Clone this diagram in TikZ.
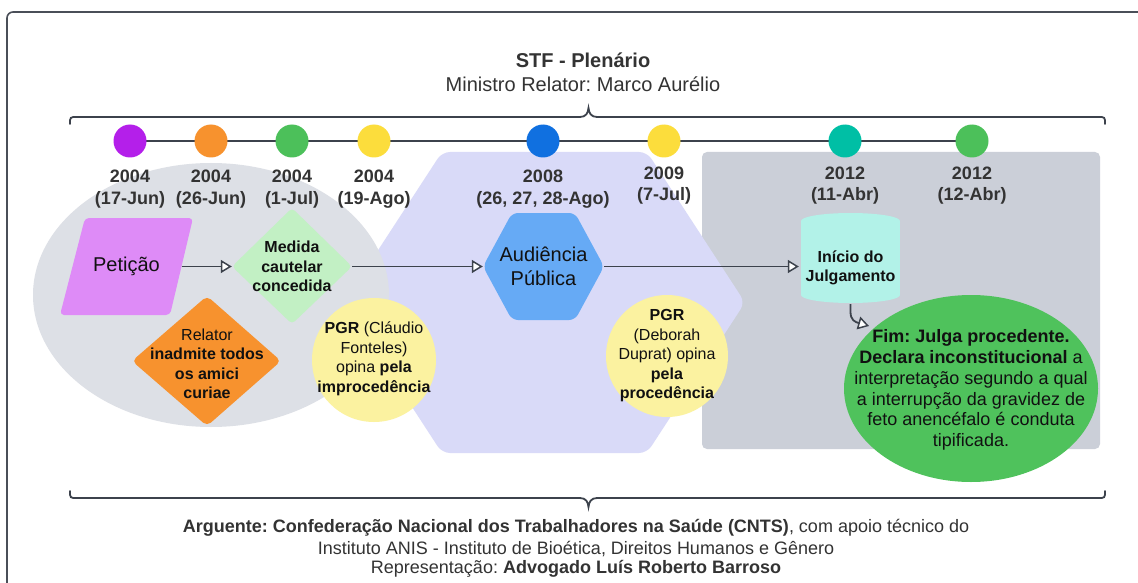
\documentclass[tikz,border=0pt]{standalone}
\usepackage{fontspec}
\setmainfont{Liberation Sans}
\usetikzlibrary{arrows.meta}
\frenchspacing
\definecolor{framec}{HTML}{4A4F58}
\definecolor{linec}{HTML}{3C424C}
\definecolor{textc}{HTML}{333333}
\definecolor{nodetext}{HTML}{111111}
\definecolor{grayell}{HTML}{DDE0E6}
\definecolor{lav}{HTML}{D9DAF8}
\definecolor{grayrect}{HTML}{CBCFD8}
\definecolor{petc}{HTML}{DE8BF7}
\definecolor{medc}{HTML}{C2F0C4}
\definecolor{orc}{HTML}{F7922E}
\definecolor{yelc}{HTML}{FBF2A0}
\definecolor{bluec}{HTML}{66AAF5}
\definecolor{cylc}{HTML}{B2F2E8}
\definecolor{fimc}{HTML}{4FC25C}
\definecolor{dpurple}{HTML}{B41FEA}
\definecolor{dorange}{HTML}{F7922E}
\definecolor{dgreen}{HTML}{4CC05A}
\definecolor{dyellow}{HTML}{FCDD3C}
\definecolor{dblue}{HTML}{1070E0}
\definecolor{dteal}{HTML}{00BFA5}
\begin{document}
\begin{tikzpicture}[x=1pt,y=-1pt,
  conn/.style={draw=linec, line width=1.8pt},
  arr/.style={-{Triangle[length=11pt,width=13pt,fill=white,line width=1.5pt]}},
  dot/.style={circle, minimum size=33pt, inner sep=0pt},
  datelbl/.style={font=\fontsize{18}{21.5}\selectfont\bfseries, text=textc, align=center, inner sep=0pt},
  ttl/.style={font=\fontsize{20}{24}\selectfont, text=textc, inner sep=0pt},
  bigtxt/.style={font=\fontsize{20}{24}\selectfont, text=nodetext, align=center, inner sep=0pt},
  smalltxt/.style={font=\fontsize{16}{19.5}\selectfont, text=nodetext, align=center, inner sep=0pt},
  fimtxt/.style={font=\fontsize{18}{20.8}\selectfont, text=nodetext, align=center, inner sep=0pt},
  bottxt/.style={font=\fontsize{18}{21}\selectfont, text=textc, inner sep=0pt},
  brace/.style={draw=linec, line width=1.8pt, line cap=round}
]
\useasboundingbox (0,0) rectangle (1138,583);
\clip (0,0) rectangle (1138,583);
\fill[white] (0,0) rectangle (1138,583);
% frame
\draw[framec, line width=1.6pt, rounded corners=6pt] (7,12) rectangle (1170,620);
% title
\node[ttl, font=\fontsize{20}{24}\selectfont\bfseries] (title) at (583,60) {STF - Plenário};
\node[ttl] (relator) at (583,84) {Ministro Relator: Marco Aurélio};
% top brace
\draw[brace] (70,124) .. controls (70,117) .. (77,117) -- (580,117)
  .. controls (586,117) and (588,113) .. (588.5,108)
  .. controls (589,113) and (591,117) .. (597,117) -- (1098,117)
  .. controls (1105,117) .. (1105,124);
% bottom brace
\draw[brace] (70,491) .. controls (70,498) .. (77,498) -- (580,498)
  .. controls (586,498) and (588,502) .. (588.5,507)
  .. controls (589,502) and (591,498) .. (597,498) -- (1098,498)
  .. controls (1105,498) .. (1105,491);
% background regions
\fill[grayrect, rounded corners=5pt] (702,152) rectangle (1100,449);
\fill[lav, rounded corners=8pt] (344,302.5) -- (442,152) -- (647,152) -- (745,302.5) -- (647,453) -- (442,453) -- cycle;
\fill[grayell] (211,295) ellipse [x radius=178, y radius=132];
% timeline
\coordinate (t1) at (130,141);
\coordinate (t8) at (972,141);
\draw[conn] (t1) -- (t8);
\node[dot, fill=dpurple] (c1) at (130,141) {};
\node[dot, fill=dorange] (c2) at (211,141) {};
\node[dot, fill=dgreen] (c3) at (292,141) {};
\node[dot, fill=dyellow] (c4) at (374,141) {};
\node[dot, fill=dblue] (c5) at (543,141) {};
\node[dot, fill=dyellow] (c6) at (664,141) {};
\node[dot, fill=dteal] (c7) at (845,141) {};
\node[dot, fill=dgreen] (c8) at (972,141) {};
% dates
\node[datelbl] (d1) at (130,189) {2004\\(17-Jun)};
\node[datelbl] (d2) at (211,189) {2004\\(26-Jun)};
\node[datelbl] (d3) at (292,189) {2004\\(1-Jul)};
\node[datelbl] (d4) at (374,189) {2004\\(19-Ago)};
\node[datelbl] (d5) at (543,189) {2008\\(26, 27, 28-Ago)};
\node[datelbl] (d6) at (664,185.5) {2009\\(7-Jul)};
\node[datelbl] (d7) at (845,185.5) {2012\\(11-Abr)};
\node[datelbl] (d8) at (972,185.5) {2012\\(12-Abr)};
% Peticao
\fill[petc, rounded corners=4pt] (85,218) -- (193,218) -- (170,315) -- (60,315) -- cycle;
\node[bigtxt, minimum width=110pt, minimum height=97pt] (pet) at (126.5,266.5) {Petição};
% Medida
\fill[medc, rounded corners=4pt] (292,208) -- (352,266.5) -- (292,324) -- (232,266.5) -- cycle;
\node[smalltxt, font=\fontsize{16}{19.5}\selectfont\bfseries, minimum width=120pt] (med) at (292,266.5) {Medida\\cautelar\\concedida};
% Relator diamond
\fill[orc, rounded corners=5pt] (207,296) -- (281,361) -- (207,426) -- (132,361) -- cycle;
\node[smalltxt] (relnode) at (207,364) {Relator\\\textbf{inadmite todos}\\\textbf{os amici}\\\textbf{curiae}};
% PGR 1
\fill[yelc] (374,360) circle [radius=62];
\node[smalltxt] (pgr1) at (374,359) {\textbf{PGR} (Cláudio\\Fonteles)\\opina \textbf{pela}\\\textbf{improcedência}};
% Audiencia
\fill[bluec, rounded corners=6pt] (483,266.5) -- (512,213) -- (575,213) -- (604,266.5) -- (575,320) -- (512,320) -- cycle;
\node[bigtxt, minimum width=121pt, minimum height=106pt] (aud) at (543.5,266.5) {Audiência\\Pública};
% PGR 2
\fill[yelc] (667,356) circle [radius=61];
\node[smalltxt] (pgr2) at (667,356) {\textbf{PGR}\\(Deborah\\Duprat) opina\\\textbf{pela}\\\textbf{procedência}};
% Cylinder
\fill[cylc] (801,221) rectangle (900,295);
\fill[cylc] (850.5,221) ellipse [x radius=49.5, y radius=8];
\fill[cylc] (850.5,295) ellipse [x radius=49.5, y radius=8];
\node[smalltxt, font=\fontsize{16}{19.5}\selectfont\bfseries, minimum width=99pt] (julg) at (850.5,268) {Início do\\Julgamento};
\coordinate (julgb) at (850.5,304);
% Fim
\fill[fimc] (971,388.5) ellipse [x radius=127, y radius=93.5];
\node[fimtxt] (fim) at (971,390) {\textbf{Fim: Julga procedente.}\\\textbf{Declara inconstitucional} a\\interpretação segundo a qual\\a interrupção da gravidez de\\feto anencéfalo é conduta\\tipificada.};
\coordinate (fimin) at (869,326);
% connectors
\draw[conn, arr] (pet.east) -- (med.west);
\draw[conn, arr] (med.east) -- (aud.west);
\draw[conn, arr, shorten >=2pt] (aud.east) -- (aud.east -| julg.west);
\draw[conn, arr] (julgb) -- ++(0,8) .. controls +(0,8) and +(-14,-4) .. (fimin);
% bottom text
\node[bottxt] (arg) at (576,528) {\textbf{Arguente: Confederação Nacional dos Trabalhadores na Saúde (CNTS)}, com apoio técnico do};
\node[bottxt] (anis) at (576,549) {Instituto ANIS - Instituto de Bioética, Direitos Humanos e Gênero};
\node[bottxt] (repr) at (576,569) {Representação: \textbf{Advogado Luís Roberto Barroso}};
\end{tikzpicture}
\end{document}
